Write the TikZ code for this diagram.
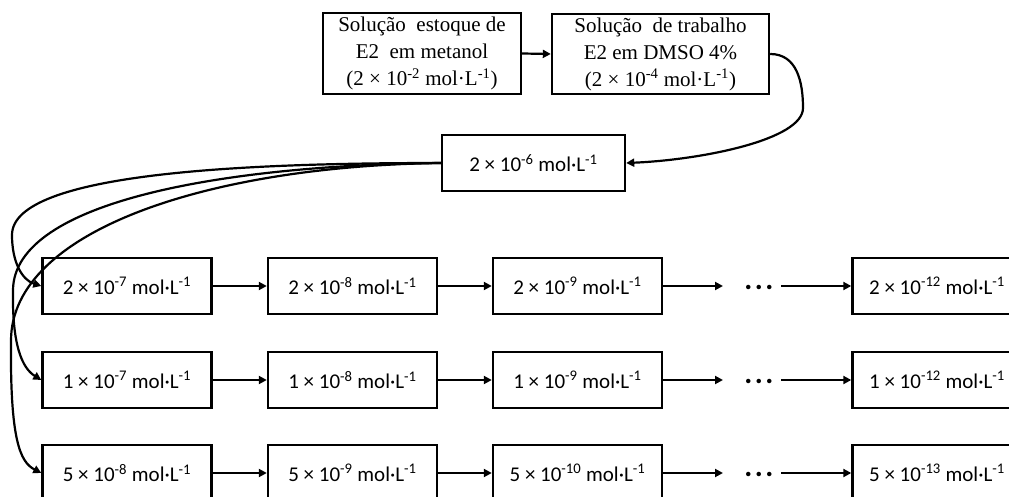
\documentclass[tikz,border=0pt]{standalone}
\usepackage{fontspec}
\setmainfont{Liberation Serif}
\newfontfamily\calfont{Carlito}
\usetikzlibrary{arrows.meta}
\begin{document}
\begin{tikzpicture}[x=1pt,y=-1pt,
  topbox/.style={draw, line width=2.4pt, inner sep=0pt, align=center, font=\fontsize{21}{27}\selectfont},
  conc/.style={draw, line width=2.4pt, minimum width=169pt, minimum height=56pt, inner sep=0pt, font=\calfont\fontsize{21}{25}\selectfont},
  arr/.style={line width=2.2pt, -{Triangle[length=8pt,width=8pt]}},
  dotsnode/.style={font=\calfont\bfseries\fontsize{30}{30}\selectfont, inner sep=0pt, anchor=base}
]
\useasboundingbox (0,0) rectangle (1009,497);

% top boxes
\node[topbox, minimum width=198pt, minimum height=81pt] (b1) at (422,53.5)
  {Solução\ \ estoque de\\E2\ \ em metanol\\(2 × 10\textsuperscript{-2} mol·L\textsuperscript{-1})};
\node[topbox, minimum width=217pt, minimum height=80pt] (b2) at (660.5,54)
  {Solução\ \ de trabalho\\E2 em DMSO 4\%\\(2 × 10\textsuperscript{-4} mol·L\textsuperscript{-1})};
\node[conc, minimum width=183pt] (b3) at (533.5,163) {2 × 10\textsuperscript{-6} mol·L\textsuperscript{-1}};

% row 1
\node[conc] (c11) at (127,286) {2 × 10\textsuperscript{-7} mol·L\textsuperscript{-1}};
\node[conc] (c12) at (352.5,286) {2 × 10\textsuperscript{-8} mol·L\textsuperscript{-1}};
\node[conc] (c13) at (577.5,286) {2 × 10\textsuperscript{-9} mol·L\textsuperscript{-1}};
\node[dotsnode] (d1) at (759,289) {.\hspace{2.5pt}.\hspace{2.5pt}.};
\node[conc] (c15) at (937,286) {2 × 10\textsuperscript{-12} mol·L\textsuperscript{-1}};
% row 2
\node[conc] (c21) at (127,380) {1 × 10\textsuperscript{-7} mol·L\textsuperscript{-1}};
\node[conc] (c22) at (352.5,380) {1 × 10\textsuperscript{-8} mol·L\textsuperscript{-1}};
\node[conc] (c23) at (577.5,380) {1 × 10\textsuperscript{-9} mol·L\textsuperscript{-1}};
\node[dotsnode] (d2) at (759,383) {.\hspace{2.5pt}.\hspace{2.5pt}.};
\node[conc] (c25) at (937,380) {1 × 10\textsuperscript{-12} mol·L\textsuperscript{-1}};
% row 3
\node[conc] (c31) at (127,473) {5 × 10\textsuperscript{-8} mol·L\textsuperscript{-1}};
\node[conc] (c32) at (352.5,473) {5 × 10\textsuperscript{-9} mol·L\textsuperscript{-1}};
\node[conc] (c33) at (577.5,473) {5 × 10\textsuperscript{-10} mol·L\textsuperscript{-1}};
\node[dotsnode] (d3) at (759,476) {.\hspace{2.5pt}.\hspace{2.5pt}.};
\node[conc] (c35) at (937,473) {5 × 10\textsuperscript{-13} mol·L\textsuperscript{-1}};

% dots connector ends
\coordinate (a1) at (723,286); \coordinate (e1) at (781,286);
\coordinate (a2) at (723,380); \coordinate (e2) at (781,380);
\coordinate (a3) at (723,473); \coordinate (e3) at (781,473);

% waypoints of curves
\coordinate (k) at (803,108);
\coordinate (fa) at (12,235);
\coordinate (fb) at (13,290);
\coordinate (fc) at (11,340);

% top connectors
\draw[arr] (b1.east) -- (b2.west);
\draw[arr] (b2.east) .. controls (797,54) and (803,82) .. (k) .. controls (803,140) and (700,160) .. (b3.east);

% fan
\draw[arr] (b3.west) .. controls (250,163) and (12,172) .. (fa) .. controls (12,262) and (22,280) .. (c11.west);
\draw[arr] (b3.west) .. controls (230,165) and (14,200) .. (fb) .. controls (12,345) and (22,368) .. (c21.west);
\draw[arr] (b3.west) .. controls (210,166) and (12,230) .. (fc) .. controls (10,440) and (20,462) .. (c31.west);

% rows
\foreach \r in {1,2,3}{
  \draw[arr] (c\r1.east) -- (c\r2.west);
  \draw[arr] (c\r2.east) -- (c\r3.west);
  \draw[arr] (c\r3.east) -- (a\r);
  \draw[arr] (e\r) -- (c\r5.west);
}
\end{tikzpicture}
\end{document}
